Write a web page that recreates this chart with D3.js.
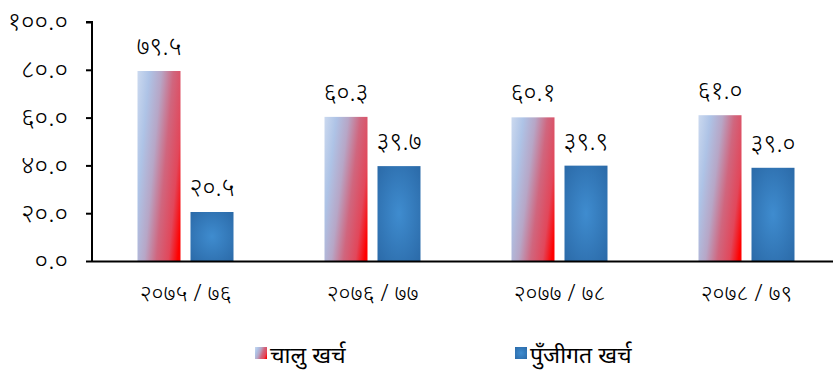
<!DOCTYPE html>
<html><head><meta charset="utf-8">
<script src="https://cdn.jsdelivr.net/npm/d3@7"></script>
<style>body{margin:0;background:#fff}svg{display:block;font-family:"Noto Sans","Noto Sans Devanagari",sans-serif}</style>
</head><body><svg id="c" width="833" height="370"></svg>
<script>
const categories = ["२०७५/७६","२०७६/७७","२०७७/७८","२०७८/७९"];
const seriesNames = ["चालु खर्च","पुँजीगत खर्च"];
const recurrent = [79.5, 60.3, 60.1, 61.0];
const capital = [20.5, 39.7, 39.9, 39.0];
const yTicks = [0,20,40,60,80,100];
const dev = s => s.replace(/[0-9]/g, d => "०१२३४५६७८९"[+d]);

const svg = d3.select("#c");
const defs = svg.append("defs");
const lg = defs.append("linearGradient").attr("id","g1").attr("x1","0").attr("y1","0").attr("x2","1.207").attr("y2","0.483");
[[0,"#cbd9ef"],[0.2,"#aec3e6"],[0.4,"#b7a6c6"],[0.6,"#d0667e"],[0.8,"#e2475a"],[0.95,"#ff0000"]].forEach(s=>lg.append("stop").attr("offset",s[0]).attr("stop-color",s[1]));
const rg = defs.append("radialGradient").attr("id","g2").attr("cx","0.5").attr("cy","0.5").attr("r","0.7");
[[0,"#3f8ccf"],[1,"#2b6aa8"]].forEach(s=>rg.append("stop").attr("offset",s[0]).attr("stop-color",s[1]));

const x0 = 92, yBase = 261, yTop = 22;
const x = d3.scaleBand().domain(categories).range([x0, x0+748]).paddingInner(0).paddingOuter(0);
const y = d3.scaleLinear().domain([0,100]).range([yBase, yTop]);

const yAxis = svg.append("g").attr("transform",`translate(${x0},0)`)
  .call(d3.axisLeft(y).tickValues(yTicks).tickSize(6).tickFormat(d=>dev(d.toFixed(1))))
  .attr("font-family",null);
yAxis.select(".domain").attr("stroke","#000").attr("stroke-width",2).attr("d",`M-6,${yTop}H0V${yBase}`);
yAxis.selectAll(".tick line").attr("stroke","#000").attr("stroke-width",2);
yAxis.selectAll(".tick text").attr("font-size",26).attr("font-weight",300).attr("fill","#000").attr("x",-24).attr("dy","0.3em");

const bw = 43;
const g = svg.append("g");
categories.forEach((c,i)=>{
  const cx = x(c) + x.bandwidth()/2;
  [[recurrent[i],"url(#g1)",cx-48],[capital[i],"url(#g2)",cx+5]].forEach(([v,f,bx])=>{
    g.append("rect").attr("x",bx).attr("width",bw).attr("y",y(v)).attr("height",yBase-y(v)).attr("fill",f);
    g.append("text").attr("x",bx+bw/2).attr("y",y(v)-16).attr("text-anchor","middle").attr("font-size",25).attr("font-weight",300).text(dev(v.toFixed(1)));
  });
});
svg.append("line").attr("x1",x0).attr("x2",833).attr("y1",yBase+0.5).attr("y2",yBase+0.5).attr("stroke","#000").attr("stroke-width",2);

const xAxis = svg.append("g").attr("transform",`translate(0,${yBase})`).call(d3.axisBottom(x).tickSize(0))
  .attr("font-family",null);
xAxis.select(".domain").remove();
xAxis.selectAll(".tick text").attr("font-size",23).attr("font-weight",300).attr("fill","#000").attr("dy",0).attr("y",40).text(d=>d.replace("/"," / "));

const leg = svg.append("g");
const lx = [255,515];
seriesNames.forEach((n,i)=>{
  leg.append("rect").attr("x",lx[i]).attr("y",347).attr("width",12).attr("height",12).attr("fill",i?"url(#g2)":"url(#g1)");
  leg.append("text").attr("x",lx[i]+15).attr("y",363).attr("font-size",23).attr("fill","#000").text(n);
});
</script></body></html>
